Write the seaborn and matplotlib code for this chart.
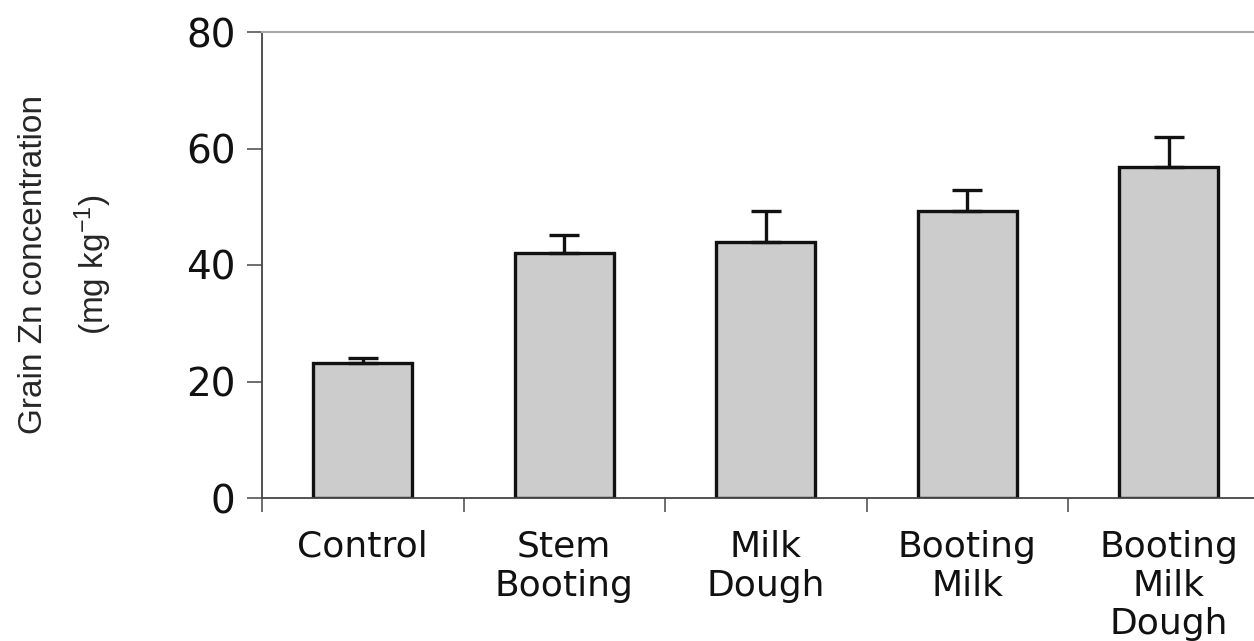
import numpy as np
import pandas as pd
import matplotlib
matplotlib.use("Agg")
import matplotlib.pyplot as plt
import seaborn as sns

# data
categories = ["Control", "Stem\nBooting", "Milk\nDough", "Booting\nMilk", "Booting\nMilk\nDough"]
zn_mean = [23.1, 42.0, 44.0, 49.2, 56.9]
zn_err = [1.0, 3.2, 5.2, 3.6, 5.1]
y_ticks = [0, 20, 40, 60, 80]

df = pd.DataFrame({"treatment": categories, "zn": zn_mean})

sns.set_style("white")
plt.rcParams["font.family"] = ["DejaVu Sans"]
plt.rcParams["mathtext.default"] = "regular"
plt.rcParams["text.color"] = "#111111"
plt.rcParams["xtick.labelcolor"] = "#111111"
plt.rcParams["ytick.labelcolor"] = "#111111"

fig = plt.figure(figsize=(12.54, 6.41), dpi=100)
ax = fig.add_axes([262 / 1254, 143 / 641, 1007.5 / 1254, 466 / 641])

sns.barplot(data=df, x="treatment", y="zn", color="#cccccc", edgecolor="#111111",
            linewidth=2.4, width=0.49, saturation=1, ax=ax)

pos = np.arange(len(categories))
ax.errorbar(pos, zn_mean, yerr=[np.zeros(len(zn_err)), zn_err], fmt="none",
            ecolor="#111111", elinewidth=2.4, capsize=10.5, capthick=2.4, zorder=1)

ax.set_xlim(-0.5, len(categories) - 0.5)
ax.set_ylim(0, 80)
ax.set_yticks(y_ticks)
ax.tick_params(axis="y", labelsize=28, length=11, width=1.2, color="#555555",
               direction="out", left=True, pad=8)

# category labels without tick marks, tick marks at category borders
ax.set_xticks(pos)
ax.set_xticklabels(categories, fontsize=26, linespacing=1.17)
ax.set_xticks(np.arange(len(categories)) - 0.5, minor=True)
ax.tick_params(axis="x", which="major", length=0, pad=23)
ax.tick_params(axis="x", which="minor", length=10, width=1.2, color="#555555",
               direction="out", bottom=True)

for side in ["left", "bottom"]:
    ax.spines[side].set_color("#444444")
    ax.spines[side].set_linewidth(1.3)
ax.spines["top"].set_color("#aaaaaa")
ax.spines["top"].set_linewidth(1.5)
ax.spines["right"].set_visible(False)

ax.set_xlabel("")
ax.set_ylabel("Grain Zn concentration\n(mg kg$^{-1}$)", fontsize=24,
              family=["Liberation Sans Narrow", "Liberation Sans"], linespacing=1.75,
              labelpad=52)

fig.savefig("out.png", dpi=100)
